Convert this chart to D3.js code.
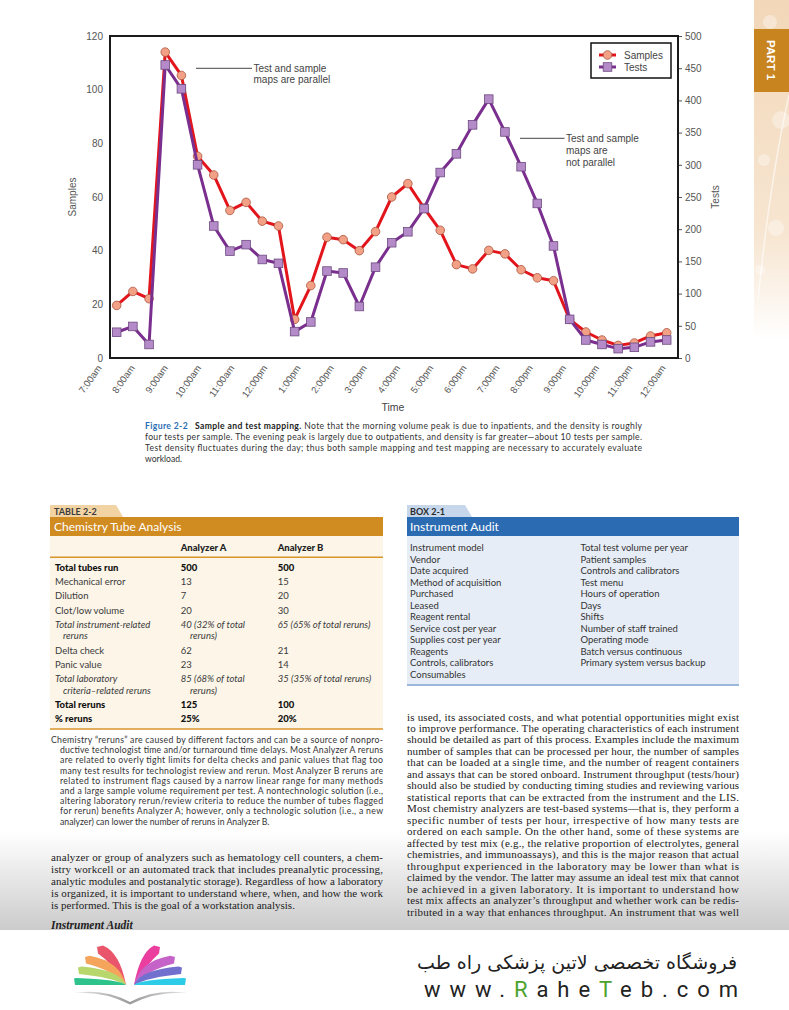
<!DOCTYPE html>
<html><head><meta charset="utf-8">
<script src="https://cdn.jsdelivr.net/npm/d3@7"></script>
<style>body{margin:0;background:#fff}svg{display:block}</style>
</head><body>
<svg id="page" width="789" height="1010"></svg>
<script>
// ---------------- DATA ----------------
const times = ["7:00am","7:30am","8:00am","8:30am","9:00am","9:30am","10:00am","10:30am","11:00am","11:30am",
  "12:00pm","12:30pm","1:00pm","1:30pm","2:00pm","2:30pm","3:00pm","3:30pm","4:00pm","4:30pm","5:00pm","5:30pm",
  "6:00pm","6:30pm","7:00pm","7:30pm","8:00pm","8:30pm","9:00pm","9:30pm","10:00pm","10:30pm","11:00pm","11:30pm","12:00am"];
const hourLabels = ["7:00am","8:00am","9:00am","10:00am","11:00am","12:00pm","1:00pm","2:00pm","3:00pm","4:00pm",
  "5:00pm","6:00pm","7:00pm","8:00pm","9:00pm","10:00pm","11:00pm","12:00am"];
const samples = [19.6,24.8,22.1,114,105.3,75.2,68.2,55,58,51,49.2,14.4,27,45,44.1,40,47.1,60,65,55.9,47.6,34.8,33.2,
  40.1,38.8,32.9,29.9,28.8,14.4,9.7,6.7,4.7,5.6,8.2,9.4];
const tests = [40,49,21,455,418,300,205,166,176,153,147,41,56,135,132,80,141,179,196,232,288,317,362,402,351,297,240,
  174,60,28,21,14.5,16.6,25,28];
const sampleTicks = [0,20,40,60,80,100,120];
const testTicks = [0,50,100,150,200,250,300,350,400,450,500];
const seriesNames = ["Samples","Tests"];
const noteParallel = ["Test and sample","maps are parallel"];
const noteNotParallel = ["Test and sample","maps are","not parallel"];

const captionLines = [
  "four tests per sample. The evening peak is largely due to outpatients, and density is far greater\u2014about 10 tests per sample.",
  "Test density fluctuates during the day; thus both sample mapping and test mapping are necessary to accurately evaluate",
  "workload."
];
const captionFirst = ["Figure 2-2", "Sample and test mapping.", " Note that the morning volume peak is due to inpatients, and the density is roughly"];

const tableColumns = ["Analyzer A","Analyzer B"];
const tableRows = [
  {label:["Total tubes run"], a:["500"], b:["500"], kind:"bold"},
  {label:["Mechanical error"], a:["13"], b:["15"]},
  {label:["Dilution"], a:["7"], b:["20"]},
  {label:["Clot/low volume"], a:["20"], b:["30"]},
  {label:["Total instrument-related","reruns"], a:["40 (32% of total","reruns)"], b:["65 (65% of total reruns)"], kind:"italic"},
  {label:["Delta check"], a:["62"], b:["21"]},
  {label:["Panic value"], a:["23"], b:["14"]},
  {label:["Total laboratory","criteria\u2013related reruns"], a:["85 (68% of total","reruns)"], b:["35 (35% of total reruns)"], kind:"italic"},
  {label:["Total reruns"], a:["125"], b:["100"], kind:"bold"},
  {label:["% reruns"], a:["25%"], b:["20%"], kind:"bold"}
];
const tableNote = [
  "Chemistry \u201creruns\u201d are caused by different factors and can be a source of nonpro-",
  "ductive technologist time and/or turnaround time delays. Most Analyzer A reruns",
  "are related to overly tight limits for delta checks and panic values that flag too",
  "many test results for technologist review and rerun. Most Analyzer B reruns are",
  "related to instrument flags caused by a narrow linear range for many methods",
  "and a large sample volume requirement per test. A nontechnologic solution (i.e.,",
  "altering laboratory rerun/review criteria to reduce the number of tubes flagged",
  "for rerun) benefits Analyzer A; however, only a technologic solution (i.e., a new",
  "analyzer) can lower the number of reruns in Analyzer B."
];
const boxLeft = ["Instrument model","Vendor","Date acquired","Method of acquisition","Purchased","Leased","Reagent rental",
  "Service cost per year","Supplies cost per year","Reagents","Controls, calibrators","Consumables"];
const boxRight = ["Total test volume per year","Patient samples","Controls and calibrators","Test menu","Hours of operation",
  "Days","Shifts","Number of staff trained","Operating mode","Batch versus continuous","Primary system versus backup"];
const bodyLeft = [
  "analyzer or group of analyzers such as hematology cell counters, a chem-",
  "istry workcell or an automated track that includes preanalytic processing,",
  "analytic modules and postanalytic storage). Regardless of how a laboratory",
  "is organized, it is important to understand where, when, and how the work",
  "is performed. This is the goal of a workstation analysis."
];
const bodyRight = [
  "is used, its associated costs, and what potential opportunities might exist",
  "to improve performance. The operating characteristics of each instrument",
  "should be detailed as part of this process. Examples include the maximum",
  "number of samples that can be processed per hour, the number of samples",
  "that can be loaded at a single time, and the number of reagent containers",
  "and assays that can be stored onboard. Instrument throughput (tests/hour)",
  "should also be studied by conducting timing studies and reviewing various",
  "statistical reports that can be extracted from the instrument and the LIS.",
  "Most chemistry analyzers are test-based systems\u2014that is, they perform a",
  "specific number of tests per hour, irrespective of how many tests are",
  "ordered on each sample. On the other hand, some of these systems are",
  "affected by test mix (e.g., the relative proportion of electrolytes, general",
  "chemistries, and immunoassays), and this is the major reason that actual",
  "throughput experienced in the laboratory may be lower than what is",
  "claimed by the vendor. The latter may assume an ideal test mix that cannot",
  "be achieved in a given laboratory. It is important to understand how",
  "test mix affects an analyzer\u2019s throughput and whether work can be redis-",
  "tributed in a way that enhances throughput. An instrument that was well"
];
const footerFa = "فروشگاه تخصصی لاتین پزشکی  راه طب";
const footerUrl = ["www.","R","ahe","T","eb.com"];

// ---------------- DRAW ----------------
const svg = d3.select("#page");
const defs = svg.append("defs");
const SANS = "'Liberation Sans', Arial, sans-serif";
const HUM = "Lato, 'Open Sans', sans-serif";
const SERIF = "'Liberation Serif', 'DejaVu Serif', serif";

// right decorative stripe
const gStripe = defs.append("linearGradient").attr("id","stripe").attr("x1",0).attr("y1",0).attr("x2",0).attr("y2",1);
gStripe.append("stop").attr("offset",0).attr("stop-color","#f2d7b8");
gStripe.append("stop").attr("offset",0.7).attr("stop-color","#f7e6d2");
gStripe.append("stop").attr("offset",1).attr("stop-color","#ffffff");
svg.append("rect").attr("x",754).attr("y",0).attr("width",35).attr("height",340).attr("fill","url(#stripe)");
[[770,22,7],[781,120,9],[764,160,6],[776,228,8],[760,270,5]].forEach(c=>
  svg.append("circle").attr("cx",c[0]).attr("cy",c[1]).attr("r",c[2]).attr("fill","#fff").attr("opacity",0.35));
svg.append("path").attr("d","M789,95 Q770,180 758,300").attr("stroke","#fff").attr("stroke-width",1.5).attr("fill","none").attr("opacity",0.6);
svg.append("rect").attr("x",754).attr("y",29).attr("width",35).attr("height",63).attr("fill","#c8841f");
svg.append("text").attr("transform","translate(767,60) rotate(90)").attr("text-anchor","middle")
  .attr("font-family",SANS).attr("font-weight","bold").attr("font-size",11.5).attr("fill","#fff").text("PART 1");

// bottom gray shade
const gShade = defs.append("linearGradient").attr("id","shade").attr("x1",0).attr("y1",0).attr("x2",0).attr("y2",1);
gShade.append("stop").attr("offset",0).attr("stop-color","#ffffff");
gShade.append("stop").attr("offset",1).attr("stop-color","#cbcbcb");
svg.append("rect").attr("x",0).attr("y",832).attr("width",789).attr("height",99).attr("fill","url(#shade)");

// ---- chart ----
const x = d3.scalePoint().domain(times).range([116.7, 666.7]);
const xLab = d3.scalePoint().domain(hourLabels).range([102, 666]);
const yS = d3.scaleLinear().domain([0,120]).range([358,36]);
const yT = d3.scaleLinear().domain([0,500]).range([358,36]);
const chart = svg.append("g").attr("font-family",SANS);

const axL = chart.append("g").attr("transform","translate(110,0)")
  .call(d3.axisLeft(yS).tickValues(sampleTicks).tickSize(0).tickPadding(7));
axL.select(".domain").remove();
axL.selectAll("text").attr("font-size",10).attr("fill","#555").attr("font-family",SANS);
const axR = chart.append("g").attr("transform","translate(678,0)")
  .call(d3.axisRight(yT).tickValues(testTicks).tickSize(4).tickPadding(3));
axR.select(".domain").remove();
axR.selectAll("line").attr("stroke","#555");
axR.selectAll("text").attr("font-size",10).attr("fill","#555").attr("font-family",SANS);

chart.selectAll(".xl").data(hourLabels).join("text").attr("class","xl")
  .attr("transform",d=>`translate(${xLab(d)},368) rotate(-55)`).attr("text-anchor","end")
  .attr("font-size",9.5).attr("fill","#555").text(d=>d);

chart.append("text").attr("transform","translate(76,197) rotate(-90)").attr("text-anchor","middle")
  .attr("font-size",10).attr("fill","#555").text("Samples");
chart.append("text").attr("transform","translate(719,197) rotate(-90)").attr("text-anchor","middle")
  .attr("font-size",10).attr("fill","#555").text("Tests");
chart.append("text").attr("x",393).attr("y",411).attr("text-anchor","middle")
  .attr("font-size",10.5).attr("fill","#444").text("Time");

const lineS = d3.line().x((d,i)=>x(times[i])).y(d=>yS(d));
const lineT = d3.line().x((d,i)=>x(times[i])).y(d=>yT(d));
chart.append("path").attr("d",lineS(samples)).attr("fill","none").attr("stroke","#e3151c").attr("stroke-width",3).attr("stroke-linejoin","round");
chart.selectAll(".ms").data(samples).join("circle").attr("class","ms")
  .attr("cx",(d,i)=>x(times[i])).attr("cy",d=>yS(d)).attr("r",4.3)
  .attr("fill","#f3a186").attr("stroke","#a8553f").attr("stroke-width",0.8);
chart.append("path").attr("d",lineT(tests)).attr("fill","none").attr("stroke","#7a2f8f").attr("stroke-width",3).attr("stroke-linejoin","round");
chart.selectAll(".mt").data(tests).join("rect").attr("class","mt")
  .attr("x",(d,i)=>x(times[i])-4.3).attr("y",d=>yT(d)-4.3).attr("width",8.6).attr("height",8.6)
  .attr("fill","#b48bc8").attr("stroke","#6d4a80").attr("stroke-width",0.8);

chart.append("rect").attr("x",110).attr("y",36).attr("width",568).attr("height",322)
  .attr("fill","none").attr("stroke","#1a1a1a").attr("stroke-width",2);

// legend
const lg = chart.append("g");
lg.append("rect").attr("x",591).attr("y",43).attr("width",80).attr("height",35).attr("fill","#fff").attr("stroke","#111").attr("stroke-width",1.5);
seriesNames.forEach((n,i)=>{
  const yy = 55 + i*12;
  lg.append("line").attr("x1",599).attr("x2",616).attr("y1",yy).attr("y2",yy)
    .attr("stroke", i? "#7a2f8f":"#e3151c").attr("stroke-width",3);
  if(i===0) lg.append("circle").attr("cx",607.5).attr("cy",yy).attr("r",4.3).attr("fill","#f3a186").attr("stroke","#a8553f").attr("stroke-width",0.8);
  else lg.append("rect").attr("x",603.2).attr("y",yy-4.3).attr("width",8.6).attr("height",8.6).attr("fill","#b48bc8").attr("stroke","#6d4a80").attr("stroke-width",0.8);
  lg.append("text").attr("x",624).attr("y",yy+3.6).attr("font-size",10).attr("fill","#444").text(n);
});

// annotations
chart.append("line").attr("x1",196).attr("x2",252).attr("y1",68.3).attr("y2",68.3).attr("stroke","#444").attr("stroke-width",1);
noteParallel.forEach((t,i)=>chart.append("text").attr("x",253.5).attr("y",71.8+i*11.3).attr("font-size",10).attr("fill","#444").text(t));
chart.append("line").attr("x1",520).attr("x2",564.5).attr("y1",138.3).attr("y2",138.3).attr("stroke","#444").attr("stroke-width",1);
noteNotParallel.forEach((t,i)=>chart.append("text").attr("x",566).attr("y",141.8+i*12).attr("font-size",10).attr("fill","#444").text(t));

// caption
const cap = svg.append("g").attr("font-family",HUM).attr("font-size",8.6).attr("fill","#333");
const c1 = cap.append("text").attr("x",145).attr("y",428.5).attr("textLength",497).attr("lengthAdjust","spacing");
c1.append("tspan").attr("font-weight","bold").attr("fill","#2a6db5").text(captionFirst[0]);
c1.append("tspan").attr("dx",7).attr("font-weight","bold").attr("fill","#222").text(captionFirst[1]);
c1.append("tspan").text(captionFirst[2]);
captionLines.forEach((t,i)=>{
  const tx = cap.append("text").attr("x",145).attr("y",439.6+i*11.1).text(t);
  if(i<captionLines.length-1) tx.attr("textLength",497).attr("lengthAdjust","spacing");
});

// ---- Table 2-2 ----
const tb = svg.append("g").attr("font-family",HUM);
tb.append("path").attr("d","M50,505 L116,505 L123,517 L50,517 Z").attr("fill","#f2d3a4");
tb.append("text").attr("x",54).attr("y",514.5).attr("font-size",9).attr("font-weight","bold").attr("fill","#3a3a3a").text("TABLE 2-2");
tb.append("rect").attr("x",50).attr("y",517).attr("width",333).attr("height",19).attr("fill","#d08b21");
tb.append("text").attr("x",54).attr("y",530.5).attr("font-size",12).attr("fill","#fff").text("Chemistry Tube Analysis");
tb.append("rect").attr("x",50).attr("y",536).attr("width",333).attr("height",193).attr("fill","#fcf5e8");
const colX = [180.7, 277.7];
tableColumns.forEach((c,i)=>tb.append("text").attr("x",colX[i]).attr("y",551).attr("font-size",9.5).attr("font-weight","900").attr("fill","#222").text(c));
tb.append("line").attr("x1",50).attr("x2",383).attr("y1",557.3).attr("y2",557.3).attr("stroke","#d8952c").attr("stroke-width",1.6);
tb.append("line").attr("x1",50).attr("x2",383).attr("y1",729).attr("y2",729).attr("stroke","#d8952c").attr("stroke-width",1.6);
let ry = 567.7;
tableRows.forEach(r=>{
  const st = t => t.attr("font-size",9.5).attr("fill", r.kind==="bold" ? "#111":"#3a3a3a")
      .attr("font-weight", r.kind==="bold" ? "900":"normal").attr("font-style", r.kind==="italic" ? "italic":"normal");
  r.label.forEach((t,j)=>st(tb.append("text").attr("x", j? 63:55).attr("y",ry+3.3+j*11.6).text(t)));
  r.a.forEach((t,j)=>st(tb.append("text").attr("x", j? 190:colX[0]).attr("y",ry+3.3+j*11.6).text(t)));
  r.b.forEach((t,j)=>st(tb.append("text").attr("x", j? 287:colX[1]).attr("y",ry+3.3+j*11.6).text(t)));
  ry += 14.2 + (r.label.length-1)*11.5;
});

// table note
const tn = svg.append("g").attr("font-family",HUM).attr("font-size",8.7).attr("fill","#333");
tableNote.forEach((t,i)=>{
  const xx = i? 60:51;
  const tx = tn.append("text").attr("x",xx).attr("y",743+i*10.2).text(t);
  if(i<tableNote.length-1) tx.attr("textLength",383-xx).attr("lengthAdjust","spacing");
});

// ---- Box 2-1 ----
const bx = svg.append("g").attr("font-family",HUM);
bx.append("path").attr("d","M407,505 L465,505 L472,517 L407,517 Z").attr("fill","#c6d7ec");
bx.append("text").attr("x",410).attr("y",514.5).attr("font-size",9).attr("font-weight","bold").attr("fill","#2a2a2a").text("BOX 2-1");
bx.append("rect").attr("x",407).attr("y",517).attr("width",332).attr("height",19).attr("fill","#2a6bb2");
bx.append("text").attr("x",410).attr("y",530.5).attr("font-size",12).attr("fill","#fff").text("Instrument Audit");
bx.append("rect").attr("x",407).attr("y",536).attr("width",332).attr("height",148).attr("fill","#e7edf6");
bx.append("line").attr("x1",407).attr("x2",739).attr("y1",685).attr("y2",685).attr("stroke","#9bb7dc").attr("stroke-width",2);
boxLeft.forEach((t,i)=>bx.append("text").attr("x",410).attr("y",551+i*11.5).attr("font-size",9.5).attr("fill","#333").text(t));
boxRight.forEach((t,i)=>bx.append("text").attr("x",580.5).attr("y",551+i*11.5).attr("font-size",9.5).attr("fill","#333").text(t));

// ---- body text ----
const bl = svg.append("g").attr("font-family",SERIF).attr("font-size",11).attr("fill","#222");
bodyLeft.forEach((t,i)=>{
  const tx = bl.append("text").attr("x",51).attr("y",860.5+i*12.2).text(t);
  if(i<bodyLeft.length-1) tx.attr("textLength",332).attr("lengthAdjust","spacing");
});
bl.append("text").attr("x",51).attr("y",929).attr("font-weight","bold").attr("font-style","italic").attr("font-size",11.5).text("Instrument Audit");
bodyRight.forEach((t,i)=>{
  bl.append("text").attr("x",407).attr("y",720.5+i*11.48).attr("textLength",332).attr("lengthAdjust","spacing").text(t);
});

// ---- footer ----
svg.append("rect").attr("x",0).attr("y",930).attr("width",789).attr("height",80).attr("fill","#fff");
const ft = svg.append("g");
ft.append("text").attr("x",737).attr("y",969).attr("text-anchor","start").attr("direction","rtl")
  .attr("font-family","'DejaVu Sans', sans-serif").attr("font-size",19).attr("fill","#222").text(footerFa);
const url = ft.append("text").attr("x",424).attr("y",997).attr("textLength",314).attr("lengthAdjust","spacing")
  .attr("font-family","Roboto, 'DejaVu Sans', sans-serif").attr("font-size",22).attr("fill","#222");
footerUrl.forEach((p,i)=>url.append("tspan").attr("fill", (i===1||i===3) ? "#4da22b":"#222").text(p));

// logo
const logo = svg.append("g");
const leftCols = ["#e9566b","#f5a45c","#b7d66b","#2fc38c"];
const rightCols = ["#ea3f9f","#c563c8","#7270cf","#2ccbe7"];
const outerL = [[97,947],[85,957],[78,967.5],[74,978.5]];
const tipL = [126,985];
leftCols.forEach((c,i)=>{
  const [ox,oy] = outerL[i];
  const h = 6.5;
  const p = d3.path();
  p.moveTo(ox,oy);
  p.lineTo(ox+6-i*1.2, oy-1.5+i*0.3);
  p.quadraticCurveTo(tipL[0]-6, oy+ (tipL[1]-oy)*0.15, tipL[0], tipL[1]);
  p.quadraticCurveTo(tipL[0]-14, oy+h+(tipL[1]-oy-h)*0.3, ox+1, oy+h);
  p.closePath();
  logo.append("path").attr("d",p.toString()).attr("fill",c);
  const mx = v => 260 - v;
  const q = d3.path();
  const [rx,ry2] = [mx(ox)+ (i===0?-3:0), oy];
  q.moveTo(rx,ry2);
  q.lineTo(rx-6+i*1.2, ry2-1.5+i*0.3);
  q.quadraticCurveTo(mx(tipL[0])+6, ry2+(tipL[1]-ry2)*0.15, mx(tipL[0]), tipL[1]);
  q.quadraticCurveTo(mx(tipL[0])+14, ry2+h+(tipL[1]-ry2-h)*0.3, rx-1, ry2+h);
  q.closePath();
  logo.append("path").attr("d",q.toString()).attr("fill",rightCols[i]);
});
const gBook = defs.append("linearGradient").attr("id","book").attr("x1",0).attr("x2",1);
gBook.append("stop").attr("offset",0).attr("stop-color","#e8e8e8");
gBook.append("stop").attr("offset",0.5).attr("stop-color","#9a9a9a");
gBook.append("stop").attr("offset",1).attr("stop-color","#e8e8e8");
logo.append("path").attr("d","M74,993 Q104,988 130,1002 Q156,988 188,993 Q156,991 130,1004.5 Q104,991 74,993 Z")
  .attr("fill","url(#book)");
</script>
</body></html>
